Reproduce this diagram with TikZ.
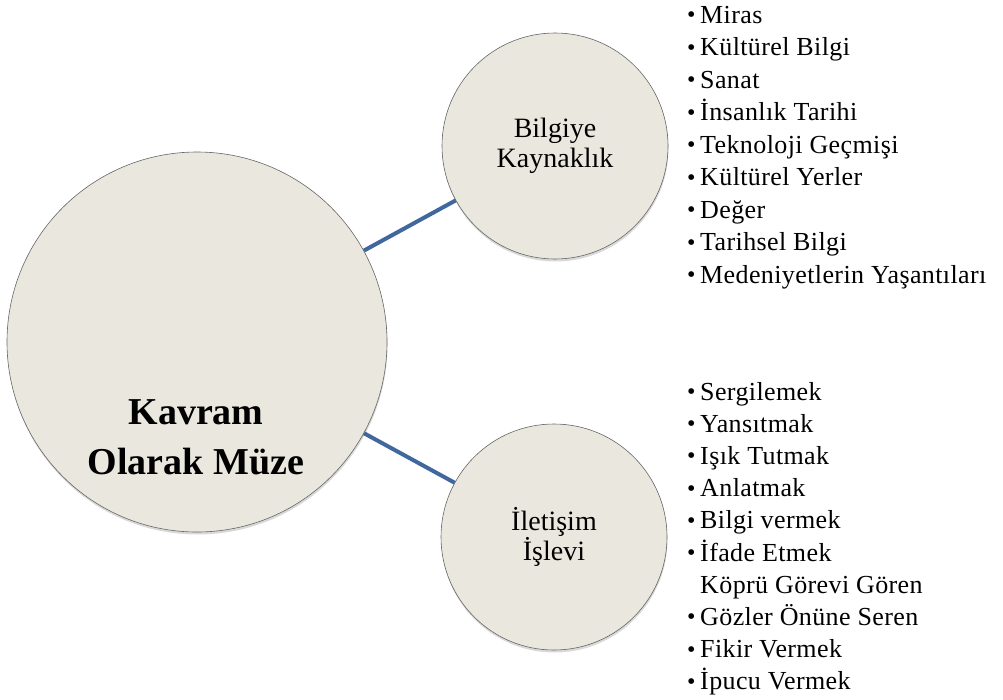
\documentclass[tikz,border=0pt]{standalone}
\usepackage{fontspec}
\setmainfont{Liberation Serif}
\usetikzlibrary{shadows}

\definecolor{circfill}{HTML}{EAE8DE}
\definecolor{linkblue}{HTML}{41689C}
\newcommand{\blt}{\makebox[13pt][l]{\raisebox{0.5pt}{\fontsize{24}{24}\selectfont •}}}
\newcommand{\nob}{\hspace*{13pt}}

\tikzset{
  bubble/.style={circle,draw=gray!80!black,line width=0.6pt,fill=circfill,
    drop shadow={shadow xshift=0.5pt,shadow yshift=-2.5pt,opacity=0.3},
    align=center,font=\fontsize{28}{30}\selectfont,inner sep=0pt},
  link/.style={draw=linkblue,line width=4pt},
  item/.style={anchor=base west,inner sep=0pt,
    font=\fontsize{26}{30}\selectfont\addfontfeature{LetterSpace=1.5}}
}

\begin{document}
\begin{tikzpicture}[x=1pt,y=-1pt]
\useasboundingbox (0,0) rectangle (1003,699);

\node[bubble,minimum size=380pt] (muze) at (197,342) {};
\node[align=center,font=\bfseries\fontsize{38}{50}\selectfont] (muzeText) at (196,437) {Kavram\\Olarak Müze};
\node[bubble,minimum size=226pt] (bilgi) at (555,146) {Bilgiye\\Kaynaklık};
\node[bubble,minimum size=226pt] (ilet) at (554,537) {İletişim\\İşlevi};

\draw[link] (muze) -- (bilgi);
\draw[link] (muze) -- (ilet);

\foreach \txt [count=\i] in {\blt Miras,\blt Kültürel Bilgi,\blt Sanat,\blt İnsanlık Tarihi,
    \blt Teknoloji Geçmişi,\blt Kültürel Yerler,\blt Değer,\blt Tarihsel Bilgi,
    \blt Medeniyetlerin Yaşantıları}
  \node[item] (b\i) at (687,{23+32.5*(\i-1)}) {\txt};

\foreach \txt [count=\i] in {\blt Sergilemek,\blt Yansıtmak,\blt Işık Tutmak,\blt Anlatmak,
    \blt Bilgi vermek,\blt İfade Etmek,\nob Köprü Görevi Gören,\blt Gözler Önüne Seren,
    \blt Fikir Vermek,\blt İpucu Vermek}
  \node[item] (i\i) at (687,{400+32.2*(\i-1)}) {\txt};

\end{tikzpicture}
\end{document}
